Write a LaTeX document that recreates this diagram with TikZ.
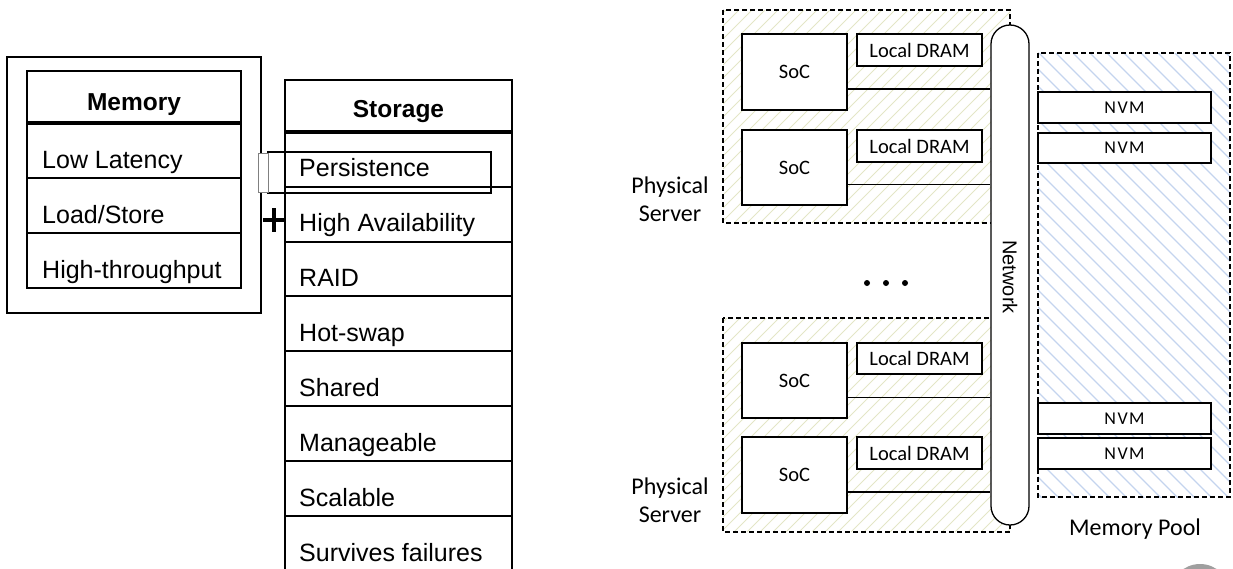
\documentclass[tikz,border=0pt]{standalone}
\usepackage{fontspec}
\setmainfont{Liberation Sans}
\newfontfamily\calibri{Carlito}
\usetikzlibrary{calc}

\definecolor{hatchsrv}{HTML}{E3E6C6}
\definecolor{hatchpool}{HTML}{C4D4EE}

\tikzset{
  thin rule/.style={line width=1.3pt},
  thick rule/.style={line width=3.5pt},
  frame/.style={line width=2.5pt},
  cell text/.style={anchor=base west, inner sep=0pt, font=\fontsize{25}{28}\selectfont},
  head text/.style={anchor=base, inner sep=0pt, font=\fontsize{24.5}{28}\selectfont\bfseries},
  dashframe/.style={line width=2.5pt, dash pattern=on 5pt off 3pt},
  box/.style={draw, fill=white, line width=1.3pt, inner sep=0pt, font=\calibri\fontsize{20.5}{24}\selectfont},
  nvmbox/.style={draw, fill=white, line width=1.3pt, inner sep=0pt, minimum width=173pt, minimum height=31pt, font=\calibri\fontsize{18}{20}\selectfont},
  label text/.style={inner sep=0pt, font=\calibri\fontsize{24}{28}\selectfont, align=center},
  link/.style={line width=1.3pt},
}

\begin{document}
\begin{tikzpicture}[x=1pt, y=-1pt]
\useasboundingbox (0,0) rectangle (1233,568);

% ---------------- Memory table ----------------
\draw[frame] (7,57) rectangle (261,313);
\draw[thin rule] (27,71) rectangle (241,288);
\draw[thick rule] (27,123) -- (241,123);
\draw[thin rule] (27,178) -- (241,178);
\draw[thin rule] (27,233) -- (241,233);
\node[head text] (memhead) at (134,110) {Memory};
\node[cell text] (mem1) at (42,168) {Low Latency};
\node[cell text] (mem2) at (42,223) {Load/Store};
\node[cell text] (mem3) at (42,278) {High-throughput};

% ---------------- Storage table ----------------
\begin{scope}
  \clip (0,0) rectangle (1233,568);
  \draw[thin rule] (285,580) -- (285,80) -- (512,80) -- (512,580);
\end{scope}
\draw[thick rule] (285,132) -- (512,132);
\foreach \yy in {187,242,296,351,406,461,516}
  \draw[thin rule] (285,\yy) -- (512,\yy);
\node[head text] (sthead) at (398.5,117) {Storage};
\node[cell text] (st1) at (299,176) {Persistence};
\node[cell text] (st2) at (299,231) {High Availability};
\node[cell text] (st3) at (299,286) {RAID};
\node[cell text] (st4) at (299,341) {Hot-swap};
\node[cell text] (st5) at (299,396) {Shared};
\node[cell text] (st6) at (299,451) {Manageable};
\node[cell text] (st7) at (299,506) {Scalable};
\node[cell text] (st8) at (299,561) {Survives failures};

% persistence bridge and plus sign
\draw[frame] (268,152) rectangle (491,193);
\draw[line width=1pt, draw=gray, fill=white] (258,153) rectangle (268,192);
\draw[line width=3.5pt] (263,220) -- (285,220);
\draw[line width=3.5pt] (274,208) -- (274,232);

% ---------------- Physical servers ----------------
\begin{scope}
  \clip (723,10) rectangle (1010,223);
  \foreach \a in {0,13,...,520}
    \draw[hatchsrv, line width=0.9pt] (500+\a,223) -- ++(260,-260) ;
\end{scope}
\begin{scope}
  \clip (723,318) rectangle (1010,532);
  \foreach \a in {0,13,...,520}
    \draw[hatchsrv, line width=0.9pt] (500+\a,532) -- ++(260,-260) ;
\end{scope}
\draw[dashframe] (723,10) rectangle (1010,223);
\draw[dashframe] (723,318) rectangle (1010,532);

\node[box, minimum width=105pt, minimum height=76pt] (soc1) at (794.5,72) {SoC};
\node[box, minimum width=105pt, minimum height=75pt] (soc2) at (794.5,167.5) {SoC};
\node[box, minimum width=105pt, minimum height=75pt] (soc3) at (794.5,380.5) {SoC};
\node[box, minimum width=105pt, minimum height=76pt] (soc4) at (794.5,475) {SoC};
\node[box, minimum width=125pt, minimum height=32pt] (dram1) at (919.5,50) {Local DRAM};
\node[box, minimum width=125pt, minimum height=32pt] (dram2) at (919.5,146) {Local DRAM};
\node[box, minimum width=125pt, minimum height=31pt] (dram3) at (919.5,358.5) {Local DRAM};
\node[box, minimum width=125pt, minimum height=32pt] (dram4) at (919.5,453) {Local DRAM};

\node[label text] (srv1) at (670,199) {Physical\\Server};
\node[label text] (srv2) at (670,500) {Physical\\Server};

% dots between the servers
\fill (867,283) circle (3pt) (886,283) circle (3pt) (905,283) circle (3pt);

% ---------------- Memory pool ----------------
\begin{scope}
  \clip (1038,53) rectangle (1230,497);
  \foreach \a in {0,17,...,680}
    \draw[hatchpool, line width=1.2pt] (580+\a,53) -- ++(500,500);
\end{scope}
\draw[dashframe] (1038,53) rectangle (1230,497);
\node[nvmbox] (nvm1) at (1124.5,107.5) {N\kern1.5pt V\kern1.5pt M};
\node[nvmbox, minimum height=30pt] (nvm2) at (1124.5,148) {N\kern1.5pt V\kern1.5pt M};
\node[nvmbox] (nvm3) at (1124.5,418.5) {N\kern1.5pt V\kern1.5pt M};
\node[nvmbox] (nvm4) at (1124.5,453.5) {N\kern1.5pt V\kern1.5pt M};
\node[label text, anchor=base] (pool) at (1135,535) {Memory Pool};

% ---------------- Network bus ----------------
\node[draw, fill=white, line width=1.3pt, rounded corners=19pt, minimum width=38pt,
      minimum height=500pt, inner sep=0pt] (net) at (1010,275) {};
\node[rotate=-90, inner sep=0pt, font=\fontsize{20}{24}\selectfont] (netlabel) at (1010,277) {Network};

\foreach \s in {soc1,soc2,soc3,soc4}
  \draw[link] ([yshift=-17pt]\s.east) -- ([yshift=-17pt]\s.east -| net.west);

% ---------------- corner mark ----------------
\begin{scope}
  \clip (0,0) rectangle (1233,568);
  \fill[gray!75] (1200,594) circle (30pt);
  \fill[white] (1200,594) -- ++(100:32) -- ++(-10:6) -- cycle;
\end{scope}
\end{tikzpicture}
\end{document}
